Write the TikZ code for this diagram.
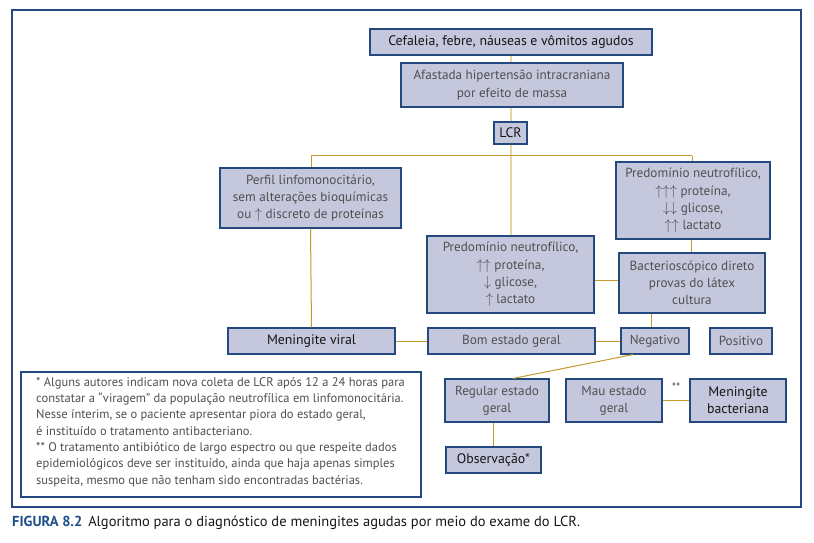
\documentclass[tikz,border=0pt]{standalone}
\usepackage{fontspec}
\setmainfont{PT Sans}
\definecolor{boxfill}{HTML}{C5C7DD}
\definecolor{boxline}{HTML}{23497F}
\definecolor{gold}{HTML}{C49A2C}
\definecolor{lightgold}{HTML}{E8D6A2}
\definecolor{txtlight}{HTML}{505050}
\definecolor{txtdark}{HTML}{151515}
\definecolor{capblue}{HTML}{1F4E89}
\newcommand{\myup}{{\fontsize{15}{15}\selectfont$\uparrow$}}
\newcommand{\mydown}{{\fontsize{15}{15}\selectfont$\downarrow$}}
\tikzset{
 box/.style={draw=boxline, line width=1.1pt, fill=boxfill, inner sep=0pt, align=center, text=txtlight, font=\fontsize{13.2}{17.3}\selectfont},
 boxb/.style={box, text=txtdark, font=\fontsize{13.8}{17.3}\selectfont},
 conn/.style={draw=gold, line width=1pt},
 lconn/.style={draw=lightgold, line width=2.6pt},
}
\begin{document}
\begin{tikzpicture}[x=1pt,y=-1pt]
\useasboundingbox (0,0) rectangle (814,543);
\draw[boxline, line width=1.4pt] (12,10) rectangle (801,507);
% branch coordinates
\coordinate (brL) at (311,155.5);
\coordinate (brR) at (692,155.5);
% connectors under boxes
\draw[lconn] (511,55) -- (511,236);
\draw[conn] (brL) -- (brR);
\draw[conn] (brL) -- (311,168);
\draw[conn] (brR) -- (692,162);
% boxes
\node[boxb, minimum width=282pt, minimum height=26pt] (cef) at (511,42) {Cefaleia, febre, náuseas e vômitos agudos};
\node[box, minimum width=222pt, minimum height=44pt] (afa) at (512,85) {Afastada hipertensão intracraniana\\por efeito de massa};
\node[boxb, minimum width=33pt, minimum height=22pt] (lcr) at (510.5,133) {LCR};
\node[box, minimum width=181pt, minimum height=60pt] (perfil) at (310.5,198) {Perfil linfomonocitário,\\sem alterações bioquímicas\\ou \myup\ discreto de proteínas};
\node[box, minimum width=167pt, minimum height=77pt] (mid) at (510.5,274.5) {Predomínio neutrofílico,\\\myup\myup\ proteína,\\\mydown\ glicose,\\\myup\ lactato};
\node[box, minimum width=154pt, minimum height=77pt] (right) at (693,200.5) {Predomínio neutrofílico,\\\myup\myup\myup\ proteína,\\\mydown\mydown\ glicose,\\\myup\myup\ lactato};
\node[box, minimum width=146pt, minimum height=60pt] (bact) at (692,283) {Bacterioscópico direto\\provas do látex\\cultura};
\node[boxb, minimum width=167pt, minimum height=26pt] (viral) at (311.5,341) {Meningite viral};
\node[box, minimum width=167pt, minimum height=26pt] (bom) at (511.5,341) {Bom estado geral};
\node[box, minimum width=68pt, minimum height=26pt] (neg) at (655,341) {Negativo};
\node[box, minimum width=62pt, minimum height=26pt] (pos) at (741,341) {Positivo};
\node[box, minimum width=104pt, minimum height=43pt] (reg) at (497,400.5) {Regular estado\\geral};
\node[box, minimum width=96pt, minimum height=43pt] (mau) at (614,400.5) {Mau estado\\geral};
\node[boxb, minimum width=96pt, minimum height=43pt] (mb) at (738,400.5) {Meningite\\bacteriana};
\node[boxb, minimum width=95pt, minimum height=26pt] (obs) at (493.5,460) {Observação*};
% connectors
\draw[conn] (perfil.south) -- (viral.north);
\draw[conn] (right.south -| 691,0) -- (bact.north -| 691,0);
\draw[conn] (mid.east |- 0,280) -- (bact.west |- 0,280);
\draw[conn] (bact.south -| 651,0) -- (neg.north -| 651,0);
\draw[conn] (viral.east) -- (bom.west);
\draw[conn] (bom.east) -- (neg.west);
\draw[conn] (neg.south -| 633,0) -- (reg.north -| 513,0);
\draw[conn] (mau.east) -- node[above=5pt, text=txtlight, font=\fontsize{12}{12}\selectfont] {**} (mb.west);
\draw[conn] (reg.south -| 493,0) -- (obs.north -| 493,0);
% footnote
\node[draw=boxline, line width=1.1pt, fill=white, minimum width=400pt, minimum height=125pt] (fn) at (221,434.5) {};
\node[anchor=north west, inner sep=0pt, align=left, text=txtlight, font=\fontsize{12.5}{16.3}\selectfont] (fntext) at (36,377) {* Alguns autores indicam nova coleta de LCR após 12 a 24 horas para\\constatar a “viragem” da população neutrofílica em linfomonocitária.\\Nesse ínterim, se o paciente apresentar piora do estado geral,\\é instituído o tratamento antibacteriano.\\** O tratamento antibiótico de largo espectro ou que respeite dados\\epidemiológicos deve ser instituído, ainda que haja apenas simples\\suspeita, mesmo que não tenham sido encontradas bactérias.};
% caption
\node[anchor=west, inner sep=0pt, font=\fontsize{14.5}{16}\selectfont] (cap) at (12,523) {\textcolor{capblue}{\textbf{FIGURA 8.2}}\hspace{6pt}\textcolor{txtdark}{Algoritmo para o diagnóstico de meningites agudas por meio do exame do LCR.}};
\end{tikzpicture}
\end{document}
